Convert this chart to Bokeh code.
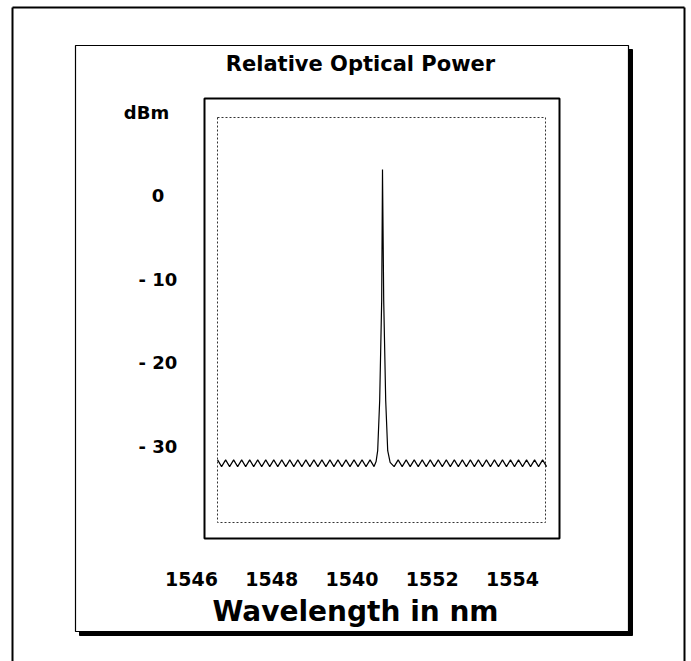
from bokeh.plotting import figure
from bokeh.models import Range1d
from bokeh.core.properties import value
from bokeh.embed import file_html
from bokeh.resources import INLINE

# ---------------- data ----------------
x_ticks = [1546, 1548, 1550, 1552, 1554]
x_tick_labels = ["1546", "1548", "1540", "1552", "1554"]
y_ticks = [0, -10, -20, -30]
y_tick_labels = ["0", "- 10", "- 20", "- 30"]

noise_left_nm = [1546.65, 1546.75, 1546.85, 1546.95, 1547.05, 1547.15, 1547.25, 1547.35,
                 1547.45, 1547.55, 1547.65, 1547.75, 1547.85, 1547.95, 1548.05, 1548.15,
                 1548.25, 1548.35, 1548.45, 1548.55, 1548.65, 1548.75, 1548.85, 1548.95,
                 1549.05, 1549.15, 1549.25, 1549.35, 1549.45, 1549.55, 1549.65, 1549.75,
                 1549.85, 1549.95, 1550.05, 1550.15, 1550.25, 1550.35, 1550.45, 1550.55]
noise_left_dbm = [-31.6, -32.4, -31.6, -32.4, -31.6, -32.4, -31.6, -32.4,
                  -31.6, -32.4, -31.6, -32.4, -31.6, -32.4, -31.6, -32.4,
                  -31.6, -32.4, -31.6, -32.4, -31.6, -32.4, -31.6, -32.4,
                  -31.6, -32.4, -31.6, -32.4, -31.6, -32.4, -31.6, -32.4,
                  -31.6, -32.4, -31.6, -32.4, -31.6, -32.4, -31.6, -32.4]

peak_nm = [1550.60, 1550.64, 1550.69, 1550.74, 1550.76, 1550.79, 1550.84, 1550.89, 1550.95]
peak_dbm = [-31.8, -30.5, -24.5, -12.5, 3.1, -12.5, -24.5, -30.5, -31.9]

noise_right_nm = [1551.05, 1551.15, 1551.25, 1551.35, 1551.45, 1551.55, 1551.65, 1551.75,
                  1551.85, 1551.95, 1552.05, 1552.15, 1552.25, 1552.35, 1552.45, 1552.55,
                  1552.65, 1552.75, 1552.85, 1552.95, 1553.05, 1553.15, 1553.25, 1553.35,
                  1553.45, 1553.55, 1553.65, 1553.75, 1553.85, 1553.95, 1554.05, 1554.15,
                  1554.25, 1554.35, 1554.45, 1554.55, 1554.65, 1554.75, 1554.85]
noise_right_dbm = [-32.4, -31.6, -32.4, -31.6, -32.4, -31.6, -32.4, -31.6,
                   -32.4, -31.6, -32.4, -31.6, -32.4, -31.6, -32.4, -31.6,
                   -32.4, -31.6, -32.4, -31.6, -32.4, -31.6, -32.4, -31.6,
                   -32.4, -31.6, -32.4, -31.6, -32.4, -31.6, -32.4, -31.6,
                   -32.4, -31.6, -32.4, -31.6, -32.4, -31.6, -32.4]

wavelength = noise_left_nm + peak_nm + noise_right_nm
power = noise_left_dbm + peak_dbm + noise_right_dbm

# ---------------- layout (canvas pixels, y downwards) ----------------
W, H = 691, 661
FONT = "DejaVu Sans"

# calibration of the data scales on the canvas
NM_A, NM_A_PX = 1546.0, 191.0
NM_B, NM_B_PX = 1554.0, 512.0
DB_A, DB_A_PX = 0.0, 195.0
DB_B, DB_B_PX = -30.0, 446.0
nm_per_px = (NM_B - NM_A) / (NM_B_PX - NM_A_PX)
db_per_px = (DB_A - DB_B) / (DB_B_PX - DB_A_PX)

nm_range = Range1d(NM_A - NM_A_PX * nm_per_px, NM_A + (W - NM_A_PX) * nm_per_px)
db_range = Range1d(DB_A - (H - DB_A_PX) * db_per_px, DB_A + DB_A_PX * db_per_px)

p = figure(width=W, height=H, output_backend="svg", toolbar_location=None,
           x_range=Range1d(0, W), y_range=Range1d(H, 0),
           x_axis_type=None, y_axis_type=None, min_border=0)
p.extra_x_ranges = {"nm": nm_range}
p.extra_y_ranges = {"dbm": db_range}
p.background_fill_color = "white"
p.border_fill_color = "white"
p.grid.grid_line_color = None
p.outline_line_color = None

# outer frame (bottom runs off the page)
p.segment(x0=[12, 12, 684], y0=[7, 7, 7], x1=[12, 684, 684], y1=[H + 5, 7, H + 5],
          line_color="black", line_width=2)
# panel with drop shadow
p.quad(left=79, right=632, top=49, bottom=635, fill_color="black", line_color="black")
p.quad(left=75, right=628, top=45, bottom=631, fill_color="white",
       line_color="black", line_width=1.2)
# plot box and dotted inner box
p.quad(left=204, right=559, top=98, bottom=538, fill_color=None,
       line_color="black", line_width=2)
p.quad(left=217, right=545, top=117, bottom=522, fill_color=None,
       line_color="#333333", line_width=1, line_dash="2 2")

# spectrum
p.line(wavelength, power, x_range_name="nm", y_range_name="dbm",
       line_color="black", line_width=1.2)

# tick labels, placed through the data scales
p.text(x=x_ticks, y=[578] * len(x_ticks), text=x_tick_labels, x_range_name="nm",
       text_font=value(FONT), text_font_style="bold", text_font_size="19px",
       text_color="black", text_align="center", text_baseline="middle")
p.text(x=[157.5] * len(y_ticks), y=y_ticks, text=y_tick_labels, y_range_name="dbm",
       text_font=value(FONT), text_font_style="bold", text_font_size="18px",
       text_color="black", text_align="center", text_baseline="middle")

# titles
p.text(x=[360], y=[63], text=["Relative Optical Power"], text_font=value(FONT),
       text_font_style="bold", text_font_size="21px", text_color="black",
       text_align="center", text_baseline="middle")
p.text(x=[146], y=[112], text=["dBm"], text_font=value(FONT),
       text_font_style="bold", text_font_size="18px", text_color="black",
       text_align="center", text_baseline="middle")
p.text(x=[355], y=[611], text=["Wavelength in nm"], text_font=value(FONT),
       text_font_style="bold", text_font_size="28px", text_color="black",
       text_align="center", text_baseline="middle")

open("out.html", "w").write(file_html(p, INLINE))
